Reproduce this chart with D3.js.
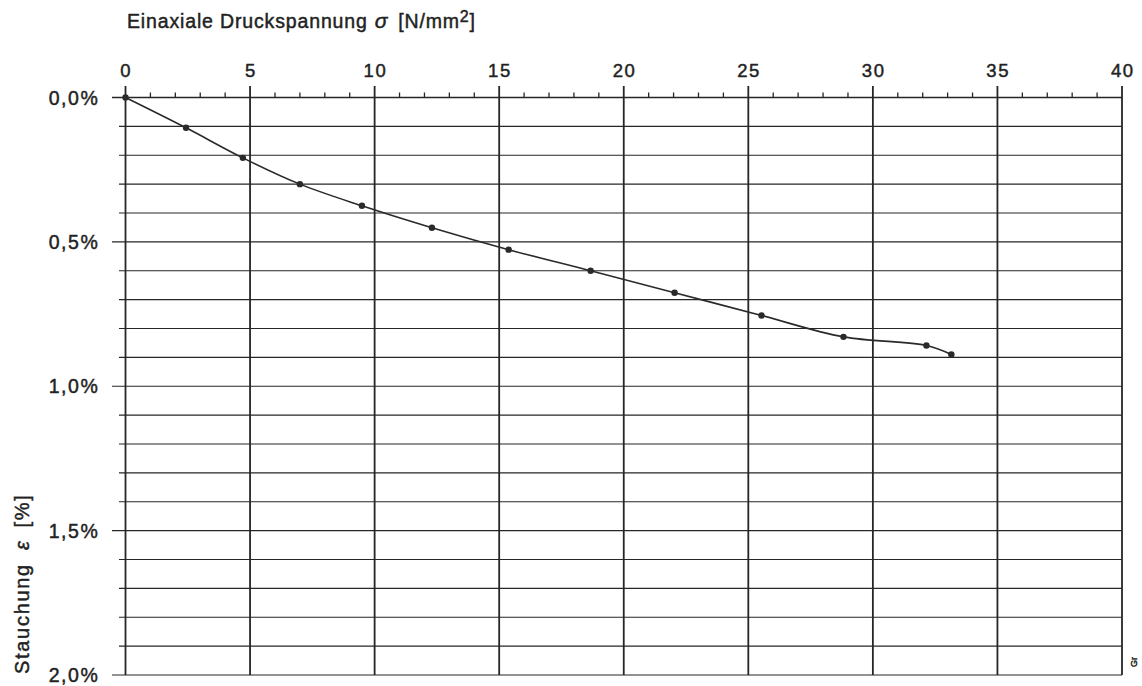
<!DOCTYPE html>
<html>
<head>
<meta charset="utf-8">
<script src="https://cdn.jsdelivr.net/npm/d3@7"></script>
<style>
  html, body { margin: 0; padding: 0; background: #fff; }
  svg { display: block; }
  text { font-family: "Liberation Sans", Arial, sans-serif; fill: #222; stroke: #222; stroke-width: 0.45; white-space: pre; }
</style>
</head>
<body>
<svg id="chart" width="1142" height="686"></svg>
<script>
// Stress (N/mm²) vs. compression strain (%) measured points
const stress = [0, 2.43, 4.71, 7.0, 9.49, 12.3, 15.38, 18.67, 22.04, 25.53, 28.82, 32.15, 33.15];
const strain = [0, 0.105, 0.209, 0.30, 0.375, 0.451, 0.527, 0.60, 0.676, 0.755, 0.829, 0.859, 0.89];

const xTicks = [0, 5, 10, 15, 20, 25, 30, 35, 40];
const yTicks = [0, 0.5, 1.0, 1.5, 2.0];
const yTickLabels = ["0,0%", "0,5%", "1,0%", "1,5%", "2,0%"];

const svg = d3.select("#chart");
const ink = "#262626";

const x = d3.scaleLinear().domain([0, 40]).range([125.5, 1122]);
const y = d3.scaleLinear().domain([0, 2.0]).range([97.5, 675]);

const g = svg.append("g");

// horizontal grid every 0.1 %
const hLines = d3.range(0, 21).map(i => i / 10);
g.selectAll("line.h").data(hLines).join("line")
  .attr("x1", d => (Math.round(d * 10) % 5 === 0) ? 112 : 119)
  .attr("x2", x(40))
  .attr("y1", d => y(d)).attr("y2", d => y(d))
  .attr("stroke", ink).attr("stroke-width", d => d === 0 ? 1.4 : 1.2);

// major vertical lines every 5 N/mm²
g.selectAll("line.v").data(xTicks).join("line")
  .attr("x1", d => x(d)).attr("x2", d => x(d))
  .attr("y1", 86).attr("y2", y(2.0))
  .attr("stroke", ink).attr("stroke-width", 1.8);

// minor ticks on the top axis
const minor = d3.range(0, 41).filter(v => v % 5 !== 0);
g.selectAll("line.m").data(minor).join("line")
  .attr("x1", d => x(d)).attr("x2", d => x(d))
  .attr("y1", y(0) - 5).attr("y2", y(0))
  .attr("stroke", ink).attr("stroke-width", 1.3);

// top axis labels
g.selectAll("text.xl").data(xTicks).join("text")
  .attr("x", d => x(d) + 0.8).attr("y", 77)
  .attr("text-anchor", "middle")
  .attr("font-size", 18.5).attr("letter-spacing", 1.6)
  .text(d => d);

// left axis labels
g.selectAll("text.yl").data(yTicks).join("text")
  .attr("x", 99.5).attr("y", d => y(d) + 7)
  .attr("text-anchor", "end")
  .attr("font-size", 19.5).attr("letter-spacing", 1.6)
  .text((d, i) => yTickLabels[i]);

// x axis title
const xt = svg.append("text").attr("x", 127).attr("y", 27.5)
  .attr("font-size", 19.5).attr("letter-spacing", 0.85);
xt.append("tspan").text("Einaxiale Druckspannung");
xt.append("tspan").attr("dx", 7).attr("font-style", "italic").attr("font-size", 21).text("σ");
xt.append("tspan").attr("dx", 10).text("[N/mm");
xt.append("tspan").attr("dy", -6).attr("font-size", 16).text("2");
xt.append("tspan").attr("dy", 6).text("]");

// y axis title
const yt = svg.append("text")
  .attr("transform", "translate(28.5,674) rotate(-90)")
  .attr("font-size", 20).attr("letter-spacing", 1.7);
yt.append("tspan").text("Stauchung");
yt.append("tspan").attr("dx", 13).attr("font-style", "italic").text("ε");
yt.append("tspan").attr("dx", 12).text("[%]");

// small mark at the lower right
svg.append("text")
  .attr("transform", "translate(1137,667) rotate(-90)")
  .attr("font-size", 9).attr("stroke-width", 0).text("Gr");

// measured curve
const pts = stress.map((s, i) => [s, strain[i]]);
const line = d3.line().x(d => x(d[0])).y(d => y(d[1])).curve(d3.curveCatmullRom.alpha(0.5));
svg.append("path").datum(pts)
  .attr("d", line).attr("fill", "none")
  .attr("stroke", "#2a2a2a").attr("stroke-width", 1.6);

svg.selectAll("circle.pt").data(pts).join("circle")
  .attr("cx", d => x(d[0])).attr("cy", d => y(d[1]))
  .attr("r", 3.2).attr("fill", "#2a2a2a");
</script>
</body>
</html>
